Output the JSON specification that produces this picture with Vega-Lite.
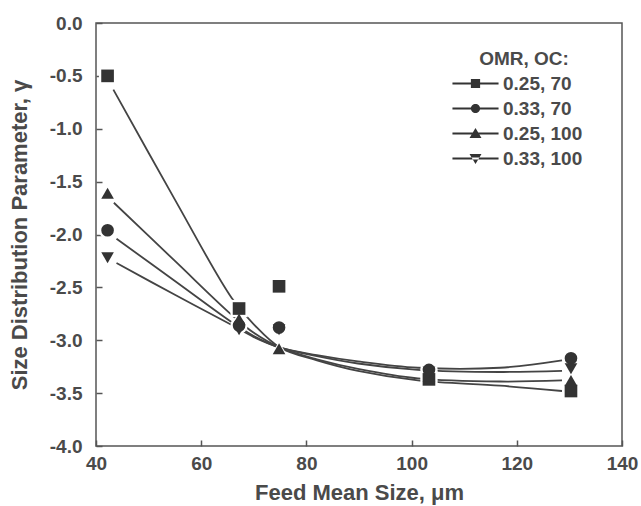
{
  "$schema": "https://vega.github.io/schema/vega-lite/v6.json",
  "autosize": "none",
  "width": 526,
  "height": 423,
  "padding": {"left": 96, "top": 23, "right": 19, "bottom": 60},
  "background": "white",
  "config": {
    "view": {"stroke": "#555", "strokeWidth": 1.5},
    "font": "Liberation Sans"
  },
  "datasets": {
    "points": [
      {"series": "0.25, 70", "x": 42.2, "y": -0.5},
      {"series": "0.25, 70", "x": 67.2, "y": -2.7},
      {"series": "0.25, 70", "x": 74.8, "y": -2.49},
      {"series": "0.25, 70", "x": 103.3, "y": -3.37},
      {"series": "0.25, 70", "x": 130.3, "y": -3.48},
      {"series": "0.33, 70", "x": 42.2, "y": -1.96},
      {"series": "0.33, 70", "x": 67.2, "y": -2.86},
      {"series": "0.33, 70", "x": 74.8, "y": -2.88},
      {"series": "0.33, 70", "x": 103.3, "y": -3.28},
      {"series": "0.33, 70", "x": 130.3, "y": -3.17},
      {"series": "0.25, 100", "x": 42.2, "y": -1.61},
      {"series": "0.25, 100", "x": 67.2, "y": -2.8},
      {"series": "0.25, 100", "x": 74.8, "y": -3.08},
      {"series": "0.25, 100", "x": 103.3, "y": -3.34},
      {"series": "0.25, 100", "x": 130.3, "y": -3.38},
      {"series": "0.33, 100", "x": 42.2, "y": -2.22},
      {"series": "0.33, 100", "x": 67.2, "y": -2.9},
      {"series": "0.33, 100", "x": 74.8, "y": -2.9},
      {"series": "0.33, 100", "x": 103.3, "y": -3.3},
      {"series": "0.33, 100", "x": 130.3, "y": -3.27}
    ],
    "curves": [
      {"series": "0.25, 70", "x": 43.3, "y": -0.63},
      {"series": "0.25, 70", "x": 55, "y": -1.67},
      {"series": "0.25, 70", "x": 65.8, "y": -2.6},
      {"series": "0.25, 70", "x": 70, "y": -2.85},
      {"series": "0.25, 70", "x": 75, "y": -3.07},
      {"series": "0.25, 70", "x": 82, "y": -3.19},
      {"series": "0.25, 70", "x": 89.8, "y": -3.29},
      {"series": "0.25, 70", "x": 101.2, "y": -3.38},
      {"series": "0.25, 70", "x": 116.8, "y": -3.43},
      {"series": "0.25, 70", "x": 128.6, "y": -3.48},
      {"series": "0.25, 100", "x": 43.4, "y": -1.7},
      {"series": "0.25, 100", "x": 55, "y": -2.25},
      {"series": "0.25, 100", "x": 65.8, "y": -2.76},
      {"series": "0.25, 100", "x": 70, "y": -2.93},
      {"series": "0.25, 100", "x": 75, "y": -3.07},
      {"series": "0.25, 100", "x": 82, "y": -3.18},
      {"series": "0.25, 100", "x": 89.8, "y": -3.27},
      {"series": "0.25, 100", "x": 101.2, "y": -3.36},
      {"series": "0.25, 100", "x": 116.8, "y": -3.39},
      {"series": "0.25, 100", "x": 128.6, "y": -3.38},
      {"series": "0.33, 70", "x": 43.9, "y": -2.04},
      {"series": "0.33, 70", "x": 55, "y": -2.44},
      {"series": "0.33, 70", "x": 66.1, "y": -2.84},
      {"series": "0.33, 70", "x": 70, "y": -2.96},
      {"series": "0.33, 70", "x": 75, "y": -3.07},
      {"series": "0.33, 70", "x": 82, "y": -3.14},
      {"series": "0.33, 70", "x": 89.8, "y": -3.2},
      {"series": "0.33, 70", "x": 101.2, "y": -3.26},
      {"series": "0.33, 70", "x": 116.8, "y": -3.26},
      {"series": "0.33, 70", "x": 128.6, "y": -3.19},
      {"series": "0.33, 100", "x": 43.9, "y": -2.27},
      {"series": "0.33, 100", "x": 55, "y": -2.57},
      {"series": "0.33, 100", "x": 66, "y": -2.86},
      {"series": "0.33, 100", "x": 70, "y": -2.97},
      {"series": "0.33, 100", "x": 75, "y": -3.07},
      {"series": "0.33, 100", "x": 82, "y": -3.15},
      {"series": "0.33, 100", "x": 89.8, "y": -3.22},
      {"series": "0.33, 100", "x": 101.2, "y": -3.28},
      {"series": "0.33, 100", "x": 116.8, "y": -3.3},
      {"series": "0.33, 100", "x": 128.6, "y": -3.29}
    ]
  },
  "layer": [
    {
      "data": {"name": "curves"},
      "mark": {"type": "line", "color": "#444", "strokeWidth": 1.8, "interpolate": "catmull-rom"},
      "encoding": {
        "x": {"field": "x", "type": "quantitative", "scale": {"domain": [40, 140], "nice": false},
          "axis": {"title": "Feed Mean Size, μm", "values": [40, 60, 80, 100, 120, 140], "domain": false, "grid": false,
            "tickSize": -6, "tickColor": "#555", "tickWidth": 1.5, "labelPadding": 14, "labelFontSize": 19, "labelFontWeight": "bold", "labelColor": "#4a4a4a",
            "titleFontSize": 22, "titleFontWeight": "bold", "titleColor": "#4a4a4a", "titlePadding": 9, "labelFlush": false}},
        "y": {"field": "y", "type": "quantitative", "scale": {"domain": [-4, 0], "nice": false},
          "axis": {"title": "Size Distribution Parameter, γ", "values": [-4, -3.5, -3, -2.5, -2, -1.5, -1, -0.5, 0], "domain": false, "grid": false,
            "labelExpr": "replace(format(datum.value, '.1f'), '\u2212', '-')",
            "tickSize": -6, "tickColor": "#555", "tickWidth": 1.5, "labelPadding": 20, "labelFontSize": 19, "labelFontWeight": "bold", "labelColor": "#4a4a4a",
            "titleFontSize": 22, "titleFontWeight": "bold", "titleColor": "#4a4a4a", "titlePadding": 18, "labelFlush": false}},
        "detail": {"field": "series", "type": "nominal"}
      }
    },
    {
      "data": {"name": "points"},
      "mark": {"type": "point", "filled": true, "color": "white", "opacity": 1, "size": 300},
      "encoding": {
        "x": {"field": "x", "type": "quantitative"},
        "y": {"field": "y", "type": "quantitative"},
        "shape": {"field": "series", "type": "nominal", "legend": null,
          "scale": {"domain": ["0.25, 70", "0.33, 70", "0.25, 100", "0.33, 100"], "range": ["square", "circle", "triangle-up", "triangle-down"]}}
      }
    },
    {
      "data": {"name": "points"},
      "mark": {"type": "point", "filled": true, "color": "#333", "opacity": 1, "size": 160},
      "encoding": {
        "x": {"field": "x", "type": "quantitative"},
        "y": {"field": "y", "type": "quantitative"},
        "shape": {"field": "series", "type": "nominal", "legend": null,
          "scale": {"domain": ["0.25, 70", "0.33, 70", "0.25, 100", "0.33, 100"], "range": ["square", "circle", "triangle-up", "triangle-down"]}}
      }
    },
    {
      "data": {"name": "points"},
      "mark": {"type": "point", "filled": true, "color": "#333", "opacity": 0, "size": 85},
      "encoding": {
        "x": {"field": "x", "type": "quantitative"},
        "y": {"field": "y", "type": "quantitative"},
        "shape": {"field": "series", "type": "nominal",
          "scale": {"domain": ["0.25, 70", "0.33, 70", "0.25, 100", "0.33, 100"],
            "range": [
              "M-5,-0.2H5V0.2H-5ZM-1,-1H1V1H-1Z",
              "M-5,-0.2H5V0.2H-5ZM1,0A1,1,0,1,1,-1,0A1,1,0,1,1,1,0Z",
              "M-5,-0.2H5V0.2H-5ZM0,-1.2L1.3,1H-1.3Z",
              "M-5,-0.2H5V0.2H-5ZM0,1.2L1.3,-1H-1.3Z"
            ]},
          "legend": {"title": "OMR, OC:", "orient": "none", "legendX": 370, "legendY": 27,
            "symbolOpacity": 1, "symbolFillColor": "#333", "symbolStrokeColor": "#333", "symbolStrokeWidth": 0, "symbolSize": 85,
            "labelOffset": 18, "labelFontSize": 19, "labelFontWeight": "bold", "labelColor": "#4a4a4a",
            "titleFontSize": 19, "titleFontWeight": "bold", "titleColor": "#4a4a4a", "titlePadding": 5, "titleAnchor": "middle", "rowPadding": 5}
        }
      }
    }
  ],
  "resolve": {"scale": {"shape": "independent"}}
}
